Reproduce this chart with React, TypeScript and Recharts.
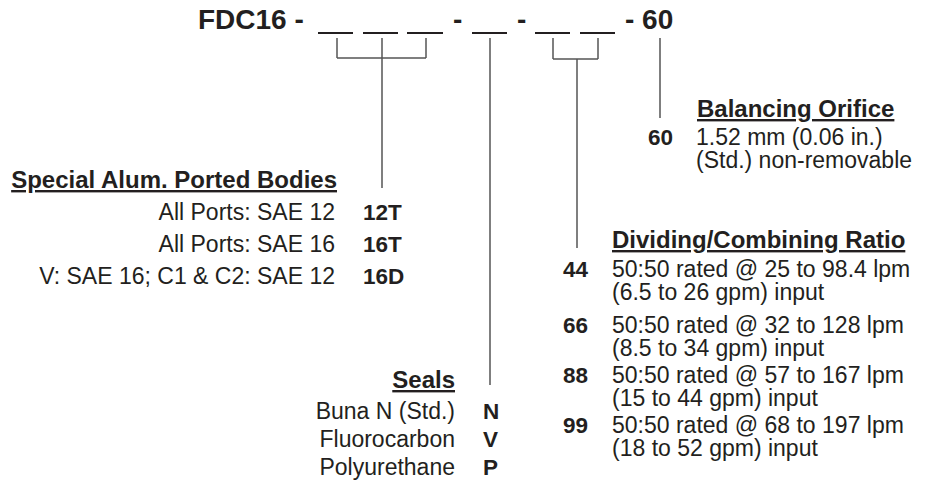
import React from "react";
import {
    ScatterChart,
    Scatter,
    XAxis,
    YAxis,
    ReferenceLine,
} from "recharts";

// ordering code content
const modelPrefix = "FDC16 -";
const modelSuffix = "- 60";

const bodyTitle = "Special Alum. Ported Bodies";
const bodyCodes = ["12T", "16T", "16D"];
const bodyDescs = ["All Ports: SAE 12", "All Ports: SAE 16", "V: SAE 16; C1 & C2: SAE 12"];

const sealTitle = "Seals";
const sealCodes = ["N", "V", "P"];
const sealDescs = ["Buna N (Std.)", "Fluorocarbon", "Polyurethane"];

const ratioTitle = "Dividing/Combining Ratio";
const ratioCodes = ["44", "66", "88", "99"];
const ratioLpm = [
    "50:50 rated @ 25 to 98.4 lpm",
    "50:50 rated @ 32 to 128 lpm",
    "50:50 rated @ 57 to 167 lpm",
    "50:50 rated @ 68 to 197 lpm",
];
const ratioGpm = [
    "(6.5 to 26 gpm) input",
    "(8.5 to 34 gpm) input",
    "(15 to 44 gpm) input",
    "(18 to 52 gpm) input",
];

const orificeTitle = "Balancing Orifice";
const orificeCode = "60";
const orificeLines = ["1.52 mm (0.06 in.)", "(Std.) non-removable"];

const W = 938;
const H = 480;
const INK = "#231F20";
const LINE = "#555555";
const FONT = "'Liberation Sans', Arial, Helvetica, sans-serif";

type Row = {
    x: number;
    y: number;
    text: string;
    size: number;
    bold?: boolean;
    under?: boolean;
    anchor?: "start" | "end" | "middle";
};

const rows: Row[] = [];
rows.push({x: 198, y: 29, text: modelPrefix, size: 28, bold: true});
rows.push({x: 453, y: 29, text: "-", size: 28, bold: true});
rows.push({x: 517, y: 29, text: "-", size: 28, bold: true});
rows.push({x: 625, y: 29, text: modelSuffix, size: 28, bold: true});

rows.push({x: 337, y: 188, text: bodyTitle, size: 24, bold: true, under: true, anchor: "end"});
bodyDescs.forEach((d, i) => {
    rows.push({x: 335, y: 220 + i * 32, text: d, size: 23, anchor: "end"});
    rows.push({x: 363, y: 220 + i * 32, text: bodyCodes[i], size: 22.5, bold: true});
});

rows.push({x: 455, y: 388, text: sealTitle, size: 24, bold: true, under: true, anchor: "end"});
sealDescs.forEach((d, i) => {
    rows.push({x: 455, y: 419 + i * 28, text: d, size: 23, anchor: "end"});
    rows.push({x: 483, y: 419 + i * 28, text: sealCodes[i], size: 22.5, bold: true});
});

const ratioBase = [277, 333, 383, 433];
rows.push({x: 612, y: 248, text: ratioTitle, size: 24, bold: true, under: true});
ratioCodes.forEach((c, i) => {
    rows.push({x: 563, y: ratioBase[i], text: c, size: 22.5, bold: true});
    rows.push({x: 612, y: ratioBase[i], text: ratioLpm[i], size: 23});
    rows.push({x: 612, y: ratioBase[i] + 23, text: ratioGpm[i], size: 23});
});

rows.push({x: 697, y: 117, text: orificeTitle, size: 24, bold: true, under: true});
rows.push({x: 648, y: 145, text: orificeCode, size: 22.5, bold: true});
orificeLines.forEach((t, i) => {
    rows.push({x: 696, y: 145 + i * 23, text: t, size: 23});
});

// blanks under the code and the leader lines
const blanks = [[318, 353], [363, 398], [407, 443], [472, 507], [535, 570], [580, 615]];
const leaders: number[][] = [
    [337, 38, 337, 58], [382, 38, 382, 188], [426, 38, 426, 58], [337, 58, 426, 58],
    [490, 38, 490, 385],
    [553, 38, 553, 59], [598, 38, 598, 59], [553, 59, 598, 59], [577, 59, 577, 248],
    [660, 38, 660, 118],
];

const renderText = (props: any) => {
    const {cx, cy, payload} = props;
    return (
        <text
            x={cx}
            y={cy}
            fill={INK}
            fontFamily={FONT}
            fontSize={payload.size}
            fontWeight={payload.bold ? "bold" : "normal"}
            textAnchor={payload.anchor || "start"}
            style={{textDecoration: payload.under ? "underline" : "none", whiteSpace: "pre"}}
        >
            {payload.text}
        </text>
    );
};

export default function App() {
    return (
        <div style={{position: "absolute", left: 0, top: 0, width: W, height: H, background: "#fff"}}>
            <ScatterChart width={W} height={H} margin={{top: 0, right: 0, bottom: 0, left: 0}}>
                <XAxis type="number" dataKey="x" domain={[0, W]} allowDataOverflow hide/>
                <YAxis type="number" dataKey="y" domain={[0, H]} reversed allowDataOverflow hide/>
                {blanks.map(([a, b], i) => (
                    <ReferenceLine
                        key={"b" + i}
                        segment={[{x: a, y: 33}, {x: b, y: 33}]}
                        stroke={INK}
                        strokeWidth={2}
                    />
                ))}
                {leaders.map(([x1, y1, x2, y2], i) => (
                    <ReferenceLine
                        key={"l" + i}
                        segment={[{x: x1, y: y1}, {x: x2, y: y2}]}
                        stroke={LINE}
                        strokeWidth={1.5}
                    />
                ))}
                <Scatter data={rows} shape={renderText} isAnimationActive={false}/>
            </ScatterChart>
        </div>
    );
}
